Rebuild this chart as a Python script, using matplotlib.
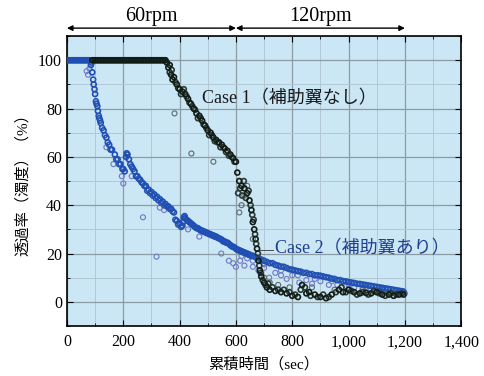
"""
Turbidity (transmittance) vs cumulative time, Case 1 / Case 2
"""
import matplotlib
matplotlib.use("Agg")
import matplotlib.pyplot as plt
from matplotlib.ticker import MultipleLocator, FuncFormatter

plt.rcParams['font.family'] = ['Liberation Serif', 'Noto Sans CJK JP']

############
# Data (time in sec, transmittance in %)
# Case 1 : main trace
case1_t = [90, 100, 110, 120, 130, 140, 150, 160, 170, 180, 190, 200, 210, 220,
           230, 240, 250, 260, 270, 280, 290, 300, 310, 320, 330, 340, 350,
           355, 360, 365, 370, 375, 380, 390, 400, 410, 420, 430, 440, 450,
           460, 470, 480, 490, 500, 510, 520, 530, 540, 550, 560, 570, 580,
           590, 600, 605, 612, 620, 630, 640, 648, 655, 660, 665, 670, 675,
           680, 685, 690, 700, 710, 720, 740, 760, 780, 800, 820, 835, 850,
           860, 880, 900, 920, 940, 966, 980, 1000, 1020, 1040, 1062, 1080,
           1100, 1120, 1143, 1160, 1180, 1195]
case1_v = [100, 100, 100, 100, 100, 100, 100, 100, 100, 100, 100, 100, 100, 100,
           100, 100, 100, 100, 100, 100, 100, 100, 100, 100, 100, 100, 100,
           99, 97, 98, 94, 92, 93, 90, 88, 87, 86, 84, 82, 80,
           78, 77, 75, 73, 71, 70, 68, 67, 66, 65, 63.5, 62.5, 61,
           59.5, 58, 53.5, 50, 48, 47, 45, 42, 38, 33, 30, 26, 22,
           17, 13, 10.5, 8, 6, 5, 4.5, 4, 3.5, 2.5, 2, 7, 3.5,
           4, 3, 2, 1.5, 3, 5, 4, 5, 4, 3.5, 3.7, 3.5,
           4, 3, 3, 2.5, 3, 3]

# Case 1 : other edge of the band
case1_band_t = [95, 105, 115, 125, 135, 145, 155, 165, 175, 185, 195, 205, 215,
                225, 235, 245, 255, 265, 275, 285, 295, 305, 315, 325, 335, 345,
                365, 372, 385, 395, 405, 415, 425, 435, 445, 455, 465, 475, 485,
                495, 505, 515, 525, 535, 545, 555, 565, 575, 585, 595,
                608, 615, 622, 628, 635, 645, 652, 658, 663, 668, 672, 678, 683,
                688, 695, 705, 715, 730, 750, 770, 790, 810, 830, 845, 865, 890,
                910, 930, 955, 975, 990, 1010, 1030, 1050, 1070, 1090, 1110,
                1130, 1150, 1170, 1190]
case1_band_v = [100, 100, 100, 100, 100, 100, 100, 100, 100, 100, 100, 100, 100,
                100, 100, 100, 100, 100, 100, 100, 100, 100, 100, 100, 100, 100,
                95, 96, 91, 88.5, 86, 88, 85, 82.5, 81, 79.5, 76, 76, 73.5,
                72, 69, 69, 66.5, 66, 64, 64, 62, 60.5, 60, 58,
                45, 47, 44, 50, 43, 46, 40, 36, 34, 28, 24, 20, 15,
                12, 9, 7, 7.5, 6, 5, 5, 4, 3, 5, 6, 2.5, 2,
                3, 2, 4, 6, 4, 4.5, 3, 4, 3, 4.5, 3.5,
                2.5, 3.5, 3, 3.5]

# Case 1 : stray grey points
case1_extra_t = [382, 442, 520, 612, 620, 630, 640, 660, 700, 720, 750, 790,
                 870, 950, 1050, 1150]
case1_extra_v = [78, 61.4, 58, 37, 40, 44, 48, 26, 10, 8, 7, 6,
                 6, 5, 5, 4]

# Case 2 : main trace
case2_t = [0, 10, 20, 30, 40, 50, 60, 70, 80, 85, 90, 95, 100, 105, 110, 115,
           120, 130, 140, 150, 160, 170, 180, 190, 200, 205, 210, 215, 220,
           230, 240, 250, 260, 270, 280, 290, 300, 310, 320, 330, 340, 350,
           360, 370, 380, 390, 400, 410, 415, 420, 430, 440, 450, 460, 470,
           480, 490, 500, 510, 520, 530, 540, 550, 560, 570, 580, 590, 600,
           610, 620, 630, 640, 650, 660, 680, 700, 720, 740, 760, 780, 800,
           820, 840, 860, 880, 900, 920, 940, 960, 980, 1000, 1020, 1040,
           1060, 1080, 1100, 1120, 1140, 1160, 1180, 1195]
case2_v = [100, 100, 100, 100, 100, 100, 100, 100, 100, 98, 95, 90, 86, 82, 79, 76,
           74, 71, 68, 65, 63, 61, 59, 57, 55, 54, 60, 61, 59,
           56, 54, 52, 50.5, 49, 48, 46.5, 45.5, 44.5, 43.5, 42.5, 41.5, 40.5,
           39.5, 38.5, 37, 33.5, 32.5, 31.5, 35, 34.5, 33.5, 32.5, 31.5, 30.5, 30,
           29.5, 29, 28.5, 28, 27.5, 27, 26.3, 25.7, 25, 24.5, 23.5, 22.8, 22,
           21.5, 21, 20.5, 20, 19.5, 19, 18, 17, 16, 15.3, 14.6, 14, 13.3,
           12.7, 12, 11.5, 11, 10.8, 10.2, 9.6, 9, 8.6, 8.2, 7.8, 7.4,
           7, 6.6, 6.2, 5.8, 5.4, 5, 4.6, 4.2]

# Case 2 : other edge of the band
case2_band_t = [5, 15, 25, 35, 45, 55, 65, 75, 88, 93, 98, 103, 108, 113, 118,
                125, 135, 145, 155, 175, 185, 197, 212, 225, 235, 245, 255, 265,
                275, 285, 295, 305, 315, 325, 335, 345, 355, 365, 375, 385, 395,
                405, 412, 418, 425, 435, 445, 455, 465, 475, 485, 495, 505, 515,
                525, 535, 545, 555, 565, 575, 585, 595, 605, 615, 625, 635, 645,
                655, 670, 690, 710, 730, 750, 770, 790, 810, 830, 850, 870, 890,
                910, 930, 950, 970, 990, 1010, 1030, 1050, 1070, 1090, 1110,
                1130, 1150, 1170, 1190]
case2_band_v = [100, 100, 100, 100, 100, 100, 100, 100, 99, 92, 88, 83, 81, 77, 75,
                72, 69, 66, 63, 59, 57, 55, 61.5, 57, 55, 52, 51, 49.5,
                48, 46, 45, 44, 43, 42, 41, 40, 39.5, 38.5, 37.5, 34, 32,
                31, 33, 35.5, 34, 33, 32, 31, 30.5, 29.5, 29, 28.5, 28, 27.5,
                27, 26.5, 26, 25, 24.5, 24, 23, 22.5, 21.5, 21, 20.5, 20, 19.5,
                19, 18.5, 17.5, 16.5, 16, 15, 14.5, 13.5, 13, 12.5, 12, 11.5, 11,
                10.5, 10, 9.5, 9, 8.5, 8, 7.5, 7.2, 6.8, 6.4, 6,
                5.6, 5.2, 4.8, 4.4]

# Case 2 : lighter scattered points under the band
case2_extra_t = [70, 75, 80, 140, 165, 195, 200, 230, 270, 318, 330, 345, 430,
                 470, 548, 575, 590, 600, 615, 620, 630, 640, 660, 660, 680,
                 700, 700, 718, 740, 760, 760, 780, 800, 820, 825, 850, 870,
                 880, 900, 930, 940, 960, 990, 1000, 1020, 1050, 1060, 1080,
                 1110, 1120, 1140, 1170, 1180, 1200]
case2_extra_v = [95.5, 94, 96.5, 64, 57, 52, 49, 52, 35, 18.7, 39, 38, 30,
                 27, 20, 17, 16, 14.5, 17, 19, 15, 18, 14.5, 17, 13,
                 14, 15.5, 10, 12, 11, 13, 9.5, 11, 11, 8, 9, 7.5,
                 9.5, 8.5, 7, 8.5, 7, 6.5, 7, 6, 5.5, 6, 5,
                 4.5, 5, 4, 3.5, 4, 3.5]

xticks = [0, 200, 400, 600, 800, 1000, 1200, 1400]
yticks = [0, 20, 40, 60, 80, 100]

############
# PLOT
fig = plt.figure(figsize=(4.85, 3.76), dpi=100)
ax = fig.add_axes([0.138, 0.133, 0.813, 0.771])
ax.set_facecolor('#cbe6f5')

mk = dict(s=13, facecolors='none')
ax.scatter(case2_extra_t, case2_extra_v, edgecolors='#6f78c4', linewidths=0.8,
           zorder=3, **mk)
ax.scatter(case1_extra_t, case1_extra_v, edgecolors='#5d6a66', linewidths=0.8,
           zorder=3, **mk)
ax.scatter(case2_band_t, case2_band_v, edgecolors='#2a55b0', linewidths=1.2,
           zorder=4, **mk)
ax.scatter(case2_t, case2_v, edgecolors='#1f4fb4', linewidths=1.2,
           zorder=4, **mk)
ax.scatter(case1_band_t, case1_band_v, edgecolors='#2a3a32', linewidths=1.2,
           zorder=5, **mk)
ax.scatter(case1_t, case1_v, edgecolors='#121c17', linewidths=1.2,
           zorder=5, **mk)

ax.set_xlim(0, 1400)
ax.set_ylim(-10, 110)
ax.set_xticks(xticks)
ax.set_yticks(yticks)
ax.xaxis.set_minor_locator(MultipleLocator(100))
ax.yaxis.set_minor_locator(MultipleLocator(10))
ax.xaxis.set_major_formatter(FuncFormatter(lambda v, p: f"{int(v):,}"))
ax.grid(which='major', color='#8d9ba3', lw=0.9)
ax.grid(which='minor', color='#b2c8d3', lw=0.7)
ax.set_axisbelow(True)
ax.tick_params(which='both', direction='in', top=True, right=True,
               labelsize=11.5, color='black')
ax.tick_params(which='major', length=4)
ax.tick_params(which='minor', length=2.5)
ax.tick_params(axis='x', pad=6)
for s in ax.spines.values():
    s.set_linewidth(1.2)

ax.set_xlabel('累積時間（sec）', fontsize=11, labelpad=5)
ax.set_ylabel('透過率（濁度）（%）', fontsize=11, labelpad=6)

ax.text(481, 84, 'Case 1（補助翼なし）', fontsize=13, color='#1a1a1a',
        va='center', ha='left')
ax.text(738, 22, 'Case 2（補助翼あり）', fontsize=13, color='#1f3f8f',
        va='center', ha='left')
ax.plot([675, 732], [21.5, 21.5], color='#333333', lw=0.6, zorder=6)

# rpm arrows above the plot
arrow = dict(arrowstyle='<|-|>', color='black', lw=1.0, mutation_scale=8,
             shrinkA=0, shrinkB=0)
ax.annotate('', xy=(0, 113.3), xytext=(600, 113.3), arrowprops=arrow,
            annotation_clip=False)
ax.annotate('', xy=(600, 113.3), xytext=(1200, 113.3), arrowprops=arrow,
            annotation_clip=False)
ax.text(300, 114, '60rpm', fontsize=14.5, ha='center', va='bottom')
ax.text(900, 114, '120rpm', fontsize=14.5, ha='center', va='bottom')

plt.savefig("out.png", dpi=100)
